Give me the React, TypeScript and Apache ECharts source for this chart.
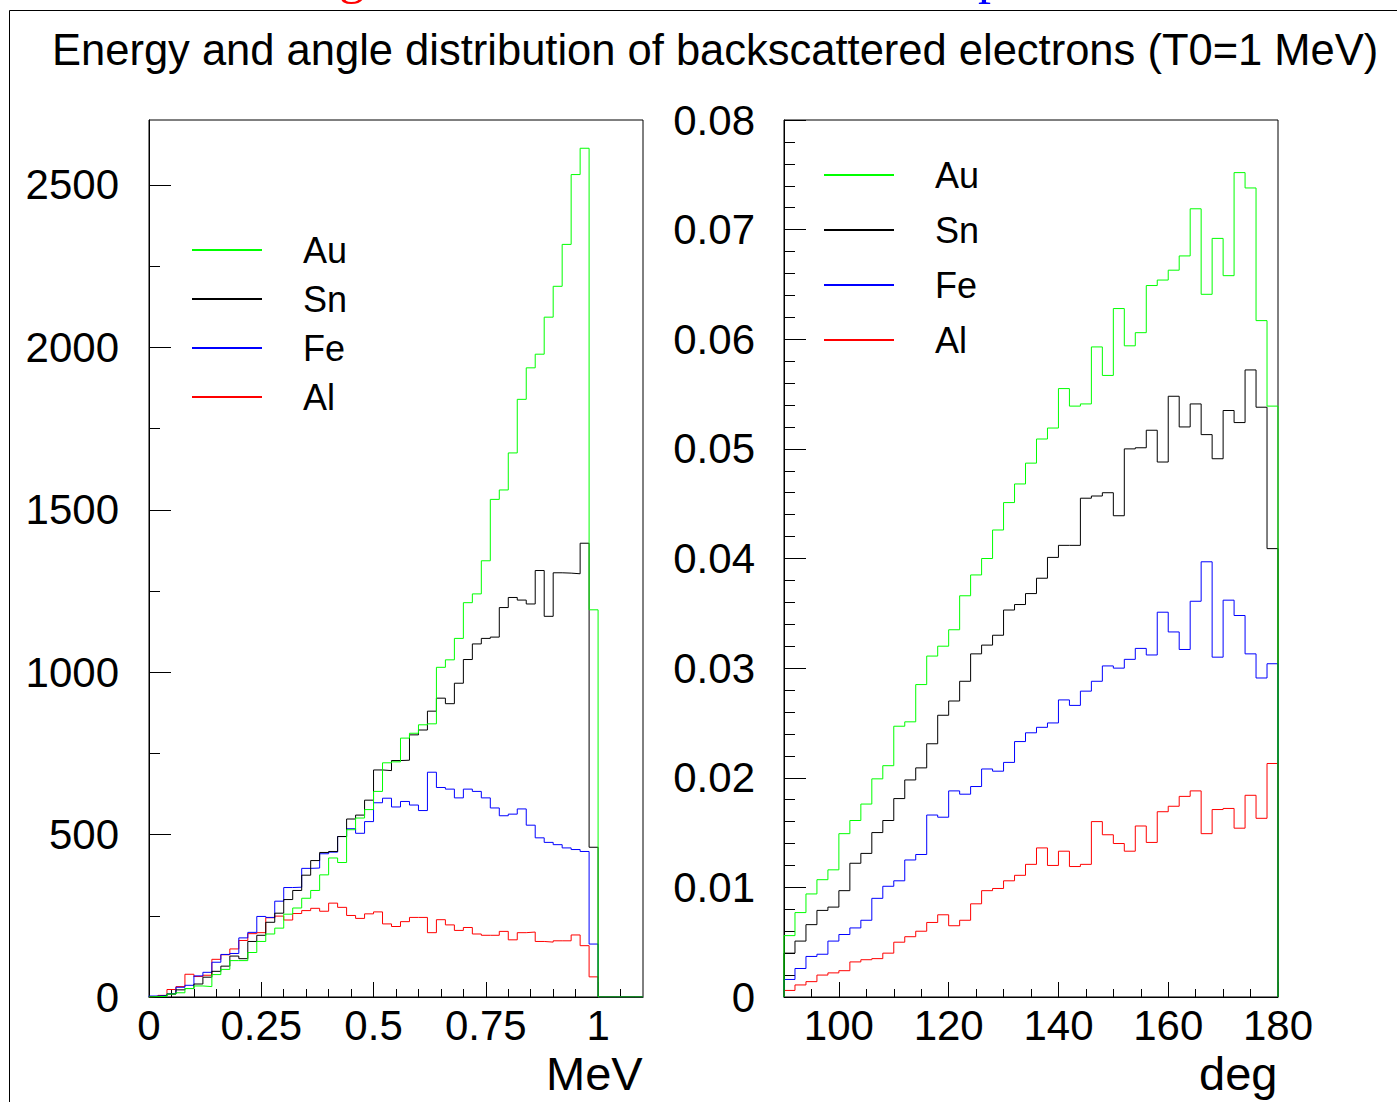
import React, { useEffect, useRef } from "react";
import * as echarts from "echarts";

const FONT = "'Liberation Sans', Arial, Helvetica, sans-serif";
const SERIF = "'Liberation Serif', 'Times New Roman', serif";
const TITLE = "Energy and angle distribution of backscattered electrons (T0=1 MeV)";

const seriesNames = ["Au", "Sn", "Fe", "Al"];
const seriesColors = ["#00ff00", "#000000", "#0000ff", "#ff0000"];

// Energy histogram: bins of 0.02 MeV from 0 to 1.1 MeV
const energyStart = 0;
const energyBinWidth = 0.02;
const energyAu = [1, 2, 9, 13, 26, 34, 32, 69, 85, 112, 112, 137, 171, 194, 212, 255, 274, 304, 328, 376, 428, 414, 515, 551, 577, 633, 721, 724, 797, 812, 838, 841, 1015, 1038, 1104, 1214, 1241, 1343, 1532, 1561, 1675, 1840, 1937, 1979, 2093, 2188, 2317, 2532, 2613, 1192, 0, 0, 0, 0, 0];
const energySn = [2, 3, 9, 22, 26, 40, 61, 79, 95, 126, 118, 171, 190, 230, 258, 300, 328, 375, 420, 445, 448, 494, 548, 560, 606, 699, 697, 728, 729, 807, 822, 880, 920, 903, 966, 1039, 1087, 1104, 1108, 1199, 1230, 1222, 1210, 1313, 1172, 1306, 1305, 1303, 1397, 461, 0, 0, 0, 0, 0];
const energyFe = [3, 5, 10, 30, 36, 65, 76, 107, 131, 134, 182, 199, 248, 245, 295, 337, 338, 396, 397, 441, 446, 494, 518, 504, 540, 598, 612, 585, 602, 591, 574, 692, 645, 640, 613, 640, 633, 613, 582, 558, 563, 579, 529, 490, 476, 469, 459, 454, 448, 163, 0, 0, 0, 0, 0];
const energyAl = [2, 5, 23, 32, 70, 63, 67, 116, 130, 148, 174, 195, 198, 244, 249, 237, 257, 266, 273, 264, 289, 276, 251, 242, 256, 262, 225, 217, 232, 245, 245, 198, 238, 222, 205, 214, 194, 190, 190, 202, 176, 198, 200, 171, 169, 173, 173, 191, 158, 62, 0, 0, 0, 0, 0];

// Angle histogram: bins of 2 deg from 90 to 180 deg
const angleStart = 90;
const angleBinWidth = 2;
const angleAu = [0.0056, 0.0077, 0.0094, 0.0107, 0.0116, 0.0149, 0.0161, 0.0176, 0.0199, 0.0211, 0.0247, 0.0251, 0.0285, 0.0311, 0.0320, 0.0335, 0.0366, 0.0385, 0.0400, 0.0426, 0.0451, 0.0468, 0.0487, 0.0509, 0.0519, 0.0555, 0.0539, 0.0541, 0.0593, 0.0567, 0.0628, 0.0594, 0.0606, 0.0649, 0.0654, 0.0663, 0.0676, 0.0719, 0.0641, 0.0692, 0.0658, 0.0752, 0.0738, 0.0617, 0.0539];
const angleSn = [0.0040, 0.0051, 0.0066, 0.0079, 0.0082, 0.0097, 0.0122, 0.0131, 0.0150, 0.0161, 0.0181, 0.0198, 0.0209, 0.0231, 0.0257, 0.0270, 0.0288, 0.0313, 0.0321, 0.0330, 0.0353, 0.0358, 0.0368, 0.0382, 0.0401, 0.0412, 0.0412, 0.0455, 0.0457, 0.0460, 0.0439, 0.0500, 0.0501, 0.0517, 0.0488, 0.0548, 0.0520, 0.0541, 0.0513, 0.0491, 0.0535, 0.0524, 0.0572, 0.0538, 0.0409];
const angleFe = [0.0016, 0.0026, 0.0037, 0.0039, 0.0051, 0.0057, 0.0063, 0.0070, 0.0090, 0.0101, 0.0106, 0.0125, 0.0130, 0.0166, 0.0164, 0.0188, 0.0185, 0.0192, 0.0208, 0.0206, 0.0214, 0.0233, 0.0241, 0.0246, 0.0250, 0.0271, 0.0266, 0.0279, 0.0288, 0.0302, 0.0300, 0.0308, 0.0318, 0.0312, 0.0351, 0.0333, 0.0317, 0.0361, 0.0397, 0.0310, 0.0362, 0.0348, 0.0313, 0.0291, 0.0304];
const angleAl = [0.0006, 0.0011, 0.0014, 0.0020, 0.0022, 0.0024, 0.0032, 0.0034, 0.0035, 0.0040, 0.0050, 0.0055, 0.0060, 0.0068, 0.0075, 0.0065, 0.0070, 0.0085, 0.0097, 0.0099, 0.0106, 0.0111, 0.0121, 0.0136, 0.0120, 0.0133, 0.0119, 0.0121, 0.0160, 0.0148, 0.0140, 0.0133, 0.0156, 0.0141, 0.0169, 0.0174, 0.0183, 0.0188, 0.0149, 0.0171, 0.0172, 0.0154, 0.0184, 0.0163, 0.0213];

// Axis ticks / labels
const energyTickLabels = [0, 0.25, 0.5, 0.75, 1];
const energyMinorTicks = [0.05, 0.1, 0.15, 0.2, 0.3, 0.35, 0.4, 0.45, 0.55, 0.6, 0.65, 0.7, 0.8, 0.85, 0.9, 0.95, 1.05];
const countMinorTicks = [250, 750, 1250, 1750, 2250];
const angleTickLabels = [100, 120, 140, 160, 180];
const angleMinorTicks = [95, 105, 110, 115, 125, 130, 135, 145, 150, 155, 165, 170, 175];

const energySeries = [energyAu, energySn, energyFe, energyAl];
const angleSeries = [angleAu, angleSn, angleFe, angleAl];

function histData(start: number, width: number, values: number[]) {
  const pts: number[][] = [[start, 0]];
  values.forEach((v, i) => pts.push([+(start + i * width).toFixed(6), v]));
  pts.push([+(start + values.length * width).toFixed(6), 0]);
  return pts;
}

const black = { color: "#000", width: 1 };

function mainX(gridIndex: number, min: number, max: number, labels: number[], name: string, nameGap: number) {
  return {
    gridIndex, type: "value", min, max, position: "bottom",
    axisLine: { show: true, onZero: false, lineStyle: black },
    axisTick: { show: true, inside: true, length: 15, customValues: labels, lineStyle: black },
    axisLabel: { show: true, customValues: labels, fontSize: 42, fontFamily: FONT, color: "#000", margin: 7 },
    splitLine: { show: false },
    name, nameLocation: "end", nameGap,
    nameTextStyle: { fontSize: 47, fontFamily: FONT, color: "#000", verticalAlign: "top", padding: [53, 0, 0, 0] },
  };
}
function minorX(gridIndex: number, min: number, max: number, ticks: number[]) {
  return {
    gridIndex, type: "value", min, max, position: "bottom",
    axisLine: { show: false, onZero: false },
    axisTick: { show: true, inside: true, length: 8, customValues: ticks, lineStyle: black },
    axisLabel: { show: false },
    splitLine: { show: false },
  };
}

export default function App() {
  const ref = useRef<HTMLDivElement>(null);
  useEffect(() => {
    document.body.style.margin = "0";
    document.body.style.overflow = "hidden";
    const chart = echarts.init(ref.current!, null, { renderer: "svg" });
    const series: any[] = [];
    // draw Al first, Au last (Au on top)
    for (let k = seriesNames.length - 1; k >= 0; k--) {
      const name = seriesNames[k];
      series.push({
        type: "line", name, step: "end", xAxisIndex: 0, yAxisIndex: 0,
        data: histData(energyStart, energyBinWidth, energySeries[k]),
        symbol: "none", showSymbol: false, silent: true, color: seriesColors[k],
        lineStyle: { width: 1, color: seriesColors[k] },
      });
      series.push({
        type: "line", name, step: "end", xAxisIndex: 2, yAxisIndex: 2,
        data: histData(angleStart, angleBinWidth, angleSeries[k]),
        symbol: "none", showSymbol: false, silent: true, color: seriesColors[k],
        lineStyle: { width: 1, color: seriesColors[k] },
      });
    }
    const legendBase = {
      data: seriesNames, orient: "vertical", icon: "rect", itemWidth: 70, itemHeight: 2,
      padding: 0, selectedMode: false,
      textStyle: { fontSize: 36, fontFamily: FONT, color: "#000", lineHeight: 36, padding: [0, 0, 0, 36] },
    };
    chart.setOption({
      animation: false,
      backgroundColor: "#fff",
      title: {
        text: TITLE, left: 52, top: 28, padding: 0,
        textStyle: { fontSize: 43.5, fontWeight: "normal", fontFamily: FONT, color: "#000" },
      },
      legend: [
        { ...legendBase, left: 192, top: 232, itemGap: 13 },
        { ...legendBase, left: 824, top: 157, itemGap: 19 },
      ],
      grid: [
        { left: 149, top: 120, width: 494, height: 877, show: true, borderColor: "#000", borderWidth: 1, containLabel: false, outerBoundsMode: "none" },
        { left: 784, top: 120, width: 494, height: 877, show: true, borderColor: "#000", borderWidth: 1, containLabel: false, outerBoundsMode: "none" },
      ],
      xAxis: [
        mainX(0, 0, 1.1, energyTickLabels, "MeV", -97),
        minorX(0, 0, 1.1, energyMinorTicks),
        mainX(1, 90, 180, angleTickLabels, "deg", -79),
        minorX(1, 90, 180, angleMinorTicks),
      ],
      yAxis: [
        {
          gridIndex: 0, type: "value", min: 0, max: 2700, interval: 500, position: "left",
          axisLine: { show: true, onZero: false, lineStyle: black },
          axisTick: { show: true, inside: true, length: 22, lineStyle: black },
          axisLabel: { fontSize: 42, fontFamily: FONT, color: "#000", margin: 30, showMaxLabel: false, formatter: (v: number) => String(v) },
          splitLine: { show: false },
        },
        {
          gridIndex: 0, type: "value", min: 0, max: 2700, position: "left",
          axisLine: { show: false, onZero: false },
          axisTick: { show: true, inside: true, length: 11, customValues: countMinorTicks, lineStyle: black },
          axisLabel: { show: false },
          splitLine: { show: false },
        },
        {
          gridIndex: 1, type: "value", min: 0, max: 0.08, interval: 0.01, position: "left",
          axisLine: { show: true, onZero: false, lineStyle: black },
          axisTick: { show: true, inside: true, length: 22, lineStyle: black },
          minorTick: { show: true, splitNumber: 5, length: 11, lineStyle: black },
          axisLabel: { fontSize: 42, fontFamily: FONT, color: "#000", margin: 29 },
          splitLine: { show: false },
        },
      ],
      graphic: [
        { type: "rect", shape: { x: 9.5, y: 10.5, width: 1500, height: 1200 }, style: { fill: "none", stroke: "#000", lineWidth: 1 }, silent: true },
        { type: "text", x: 339, y: -25, style: { text: "g", font: `52px ${SERIF}`, fill: "#ff0000", align: "left", verticalAlign: "middle" }, silent: true },
        { type: "text", x: 978, y: -25, style: { text: "p", font: `52px ${SERIF}`, fill: "#0000ff", align: "left", verticalAlign: "middle" }, silent: true },
      ],
      series,
    });
    return () => chart.dispose();
  }, []);
  return <div ref={ref} style={{ width: 1397, height: 1102 }} />;
}
